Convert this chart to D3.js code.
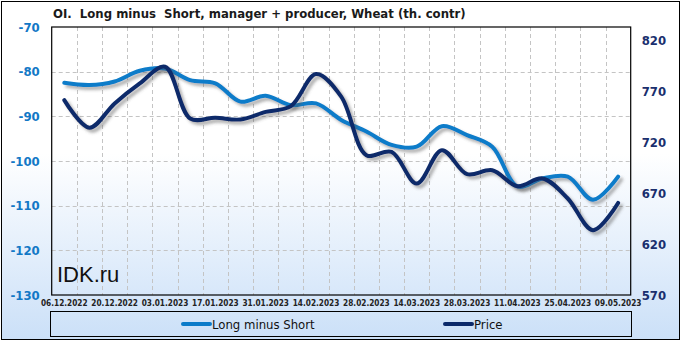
<!DOCTYPE html>
<html><head><meta charset="utf-8">
<script src="https://cdn.jsdelivr.net/npm/d3@7/dist/d3.min.js"></script>
<style>
html,body{margin:0;padding:0;background:#fff;}
svg{display:block;}
</style></head>
<body><svg id="c" width="681" height="341"></svg>
<script>
const dates = ["06.12.2022","13.12.2022","20.12.2022","27.12.2022","03.01.2023","10.01.2023","17.01.2023","24.01.2023","31.01.2023","07.02.2023","14.02.2023","21.02.2023","28.02.2023","07.03.2023","14.03.2023","21.03.2023","28.03.2023","04.04.2023","11.04.2023","18.04.2023","25.04.2023","02.05.2023","09.05.2023"];
const longMinusShort = [-82.5,-83.0,-82.2,-79.8,-79.3,-81.9,-82.6,-86.7,-85.4,-87.5,-87.1,-90.8,-93.4,-96.4,-96.8,-92.2,-94.2,-96.8,-105.7,-103.9,-103.5,-108.7,-103.5];
const price = [761.6,734.5,758.4,778,794.4,743.6,744.2,742.6,750,755.7,787.2,765,707.5,710.7,679.6,712.4,688.8,692.7,677,684.6,664.9,633.7,660.5];
const leftTicks = [-70,-80,-90,-100,-110,-120,-130];
const rightTicks = [570,620,670,720,770,820];
const xLabelDates = dates.filter((d,i)=>i%2===0);
const seriesNames = ["Long minus Short","Price"];
const colors = {lms:"#0b7bc9", price:"#0c2a6a"};

const svg = d3.select("#c");
const W=681,H=341;
const defs = svg.append("defs");
const g = defs.append("linearGradient").attr("id","bg").attr("x1",0).attr("y1",0).attr("x2",0).attr("y2",1);
g.append("stop").attr("offset","0").attr("stop-color","#ffffff");
g.append("stop").attr("offset","0.45").attr("stop-color","#ffffff");
g.append("stop").attr("offset","1").attr("stop-color","#cbe0f8");
const f = defs.append("filter").attr("id","sh").attr("x","-10%").attr("y","-10%").attr("width","130%").attr("height","140%");
f.append("feDropShadow").attr("dx",3).attr("dy",3).attr("stdDeviation",1.6).attr("flood-color","#555").attr("flood-opacity",0.45);

svg.append("rect").attr("x",1.5).attr("y",1.5).attr("width",W-3).attr("height",H-3)
  .attr("fill","url(#bg)").attr("stroke","#000").attr("stroke-width",1);

const L=51.7,R=630.7,T=27,B=295;
const x = d3.scaleBand().domain(dates).range([L,R]).padding(0);
const bw = x.bandwidth();
const cx = d=>x(d)+bw/2;
const yL = d3.scaleLinear().domain([-130,-70]).range([B,T]);
const yR = d3.scaleLinear().domain([570,833.5]).range([B,T]);

const font = "'DejaVu Sans Condensed','DejaVu Sans',sans-serif";

// grid
const grid = svg.append("g").attr("stroke","#c4c4c4").attr("stroke-dasharray","4,3").attr("stroke-width",1);
dates.slice(1).forEach(d=>{
  const xx=Math.round(x(d))+0.5;
  grid.append("line").attr("x1",xx).attr("x2",xx).attr("y1",T).attr("y2",B);
});
leftTicks.slice(1,-1).forEach(v=>{
  const yy=Math.round(yL(v))+0.5;
  grid.append("line").attr("x1",L).attr("x2",R).attr("y1",yy).attr("y2",yy);
});

// IDK.ru
svg.append("text").attr("x",57).attr("y",282).attr("font-family","'Liberation Sans',Arial,sans-serif")
  .attr("font-size",22).attr("fill","#111").text("IDK.ru");

// lines
const lineL = d3.line().x((d,i)=>cx(dates[i])).y(d=>yL(d)).curve(d3.curveCatmullRom.alpha(0.5));
const lineR = d3.line().x((d,i)=>cx(dates[i])).y(d=>yR(d)).curve(d3.curveCatmullRom.alpha(0.5));
svg.append("path").datum(longMinusShort).attr("d",lineL).attr("fill","none")
  .attr("stroke",colors.lms).attr("stroke-width",4).attr("stroke-linecap","round").attr("filter","url(#sh)");
svg.append("path").datum(price).attr("d",lineR).attr("fill","none")
  .attr("stroke",colors.price).attr("stroke-width",4).attr("stroke-linecap","round").attr("filter","url(#sh)");

// plot border
svg.append("rect").attr("x",L).attr("y",T).attr("width",R-L).attr("height",B-T)
  .attr("fill","none").attr("stroke","#000").attr("stroke-width",1.2);

// axes
const axL = svg.append("g").attr("transform",`translate(${L-12},0)`)
  .call(d3.axisLeft(yL).tickValues(leftTicks).tickSize(0).tickPadding(0).tickFormat(d3.format("d")));
axL.select(".domain").remove();
axL.selectAll("text").attr("font-family",font).attr("font-size",13).attr("font-weight","bold").attr("fill","#1278c6")
  .text(d=>String(d).replace("−","-"));
const axR = svg.append("g").attr("transform",`translate(${R+11},0)`)
  .call(d3.axisRight(yR).tickValues(rightTicks).tickSize(0).tickPadding(0));
axR.select(".domain").remove();
axR.selectAll("text").attr("font-family",font).attr("font-size",13).attr("font-weight","bold").attr("fill","#1a2f6e");
const axB = svg.append("g").attr("transform",`translate(0,${B+2})`)
  .call(d3.axisBottom(x).tickValues(xLabelDates).tickSize(0).tickPadding(0));
axB.select(".domain").remove();
axB.selectAll("text").attr("font-family",font).attr("font-size",8.2).attr("font-weight","bold").attr("fill","#222").attr("dy","1.05em");

// title
svg.append("text").attr("x",53).attr("y",18).attr("font-family",font).attr("font-size",13)
  .attr("font-weight","bold").attr("fill","#1a1a1a").attr("xml:space","preserve")
  .text("OI.  Long minus  Short, manager + producer, Wheat (th. contr)");

// legend
svg.append("rect").attr("x",50.5).attr("y",311.5).attr("width",581).attr("height",25)
  .attr("fill","none").attr("stroke","#000").attr("stroke-width",1);
const leg = [{n:seriesNames[0],c:colors.lms,x:183},{n:seriesNames[1],c:colors.price,x:445}];
leg.forEach(l=>{
  svg.append("line").attr("x1",l.x).attr("x2",l.x+27).attr("y1",324).attr("y2",324)
    .attr("stroke",l.c).attr("stroke-width",4).attr("stroke-linecap","round");
  svg.append("text").attr("x",l.x+29).attr("y",328.5).attr("font-family",font).attr("font-size",13)
    .attr("fill","#111").text(l.n);
});
</script></body></html>
